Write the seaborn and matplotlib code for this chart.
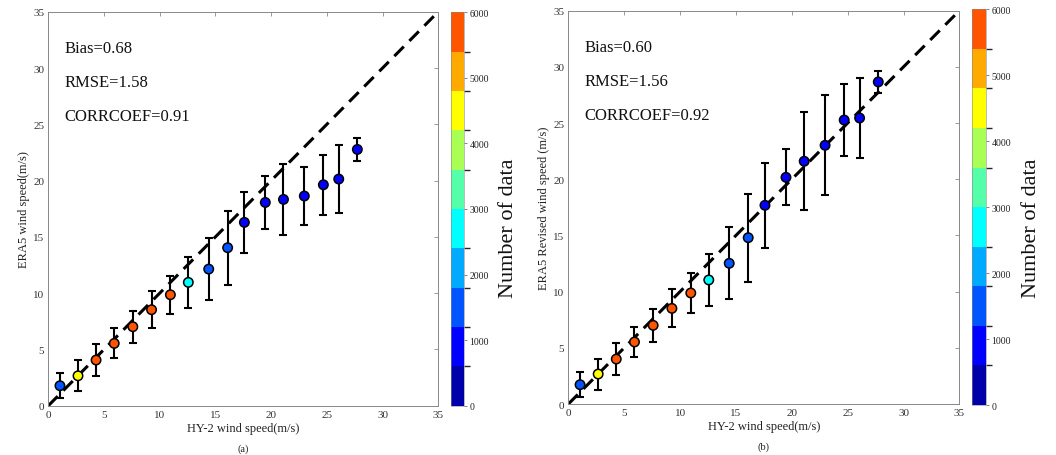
import numpy as np
import pandas as pd
import matplotlib
matplotlib.use("Agg")
import matplotlib.pyplot as plt
from matplotlib.colors import ListedColormap, BoundaryNorm
from matplotlib.cm import ScalarMappable
import seaborn as sns

# Binned HY-2 wind speed (m/s)
hy2_speed = [1.05, 2.67, 4.29, 5.92, 7.59, 9.27, 10.96, 12.57, 14.40,
             16.10, 17.60, 19.48, 21.11, 22.98, 24.69, 26.07, 27.74]
# Number of samples per bin
n_samples = [1500, 4500, 5700, 5700, 5700, 5700, 5700, 2700, 1500,
             1500, 900, 900, 900, 900, 900, 900, 900]

# Panel (a): ERA5 wind speed, mean and standard deviation per bin
era5_mean = [1.78, 2.66, 4.06, 5.54, 7.02, 8.53, 9.86, 10.96, 12.14,
             14.04, 16.29, 18.06, 18.33, 18.63, 19.63, 20.14, 22.77]
era5_std = [1.11, 1.38, 1.39, 1.33, 1.44, 1.65, 1.70, 2.25, 2.77,
            3.27, 2.69, 2.36, 3.19, 2.56, 2.65, 3.04, 1.06]

# Panel (b): ERA5 revised wind speed, mean and standard deviation per bin
rev_mean = [1.72, 2.67, 4.00, 5.52, 7.00, 8.51, 9.88, 11.04, 12.52,
            14.80, 17.68, 20.17, 21.60, 23.02, 25.27, 25.45, 28.66]
rev_std = [1.12, 1.38, 1.40, 1.35, 1.48, 1.68, 1.75, 2.35, 3.19,
           3.93, 3.80, 2.48, 4.34, 4.44, 3.18, 3.53, 1.00]

stats_a = ["Bias=0.68", "RMSE=1.58", "CORRCOEF=0.91"]
stats_b = ["Bias=0.60", "RMSE=1.56", "CORRCOEF=0.92"]

ylabels = ["ERA5 wind speed(m/s)", "ERA5 Revised wind speed (m/s)"]
xlabel = "HY-2 wind speed(m/s)"
panel_tags = ["(a)", "(b)"]
cbar_label = "Number of data"
cbar_ticks = [0, 1000, 2000, 3000, 4000, 5000, 6000]

sns.set_theme(style="white")
plt.rcParams["font.family"] = ["Liberation Serif", "DejaVu Serif"]

# 10-level jet palette
jet10 = ["#0000AA", "#0000FF", "#0055FF", "#00AAFF", "#00FFFF",
         "#55FFAA", "#AAFF55", "#FFFF00", "#FFAA00", "#FF5500"]
cmap = ListedColormap(jet10)
bounds = np.linspace(0, 6000, 11)
norm = BoundaryNorm(bounds, cmap.N)

fig = plt.figure(figsize=(10.56, 4.56), dpi=100)
ax_rects = [[0.0457, 0.108, 0.3693, 0.864], [0.5382, 0.1118, 0.3703, 0.8626]]
cax_rects = [[0.4268, 0.108, 0.0126, 0.863], [0.9208, 0.1096, 0.0127, 0.868]]
label_x = [0.4815, 0.9768]

panels = [(era5_mean, era5_std, stats_a), (rev_mean, rev_std, stats_b)]

for i, (ymean, ystd, stats) in enumerate(panels):
    ax = fig.add_axes(ax_rects[i])
    df = pd.DataFrame({"x": hy2_speed, "y": ymean, "err": ystd, "n": n_samples})

    # 1:1 reference line
    ax.plot([0, 34.6], [0, 34.6], color="black", lw=2.2, ls=(0, (4.4, 2.6)),
            zorder=1)

    ax.errorbar(df["x"], df["y"], yerr=df["err"], fmt="none", ecolor="black",
                elinewidth=1.5, capsize=3.2, capthick=1.5, zorder=2)

    sns.scatterplot(data=df, x="x", y="y", hue="n", palette=cmap,
                    hue_norm=norm, legend=False, s=46, edgecolor="black",
                    linewidth=1.1, zorder=3, ax=ax)

    ax.set_xlim(0, 35)
    ax.set_ylim(0, 35)
    ax.set_xticks(range(0, 36, 5))
    ax.set_yticks(range(0, 36, 5))
    ax.tick_params(direction="in", length=3, width=0.6, colors="#888888",
                   labelcolor="#333333", labelsize=8, top=True, right=True,
                   pad=3)
    for sp in ax.spines.values():
        sp.set_color("#888888")
        sp.set_linewidth(0.7)

    ax.set_xlabel(xlabel, fontsize=9, color="#222222", labelpad=2)
    ax.set_ylabel(ylabels[i], fontsize=9, color="#222222", labelpad=2)
    ax.text(0.5, -0.095, panel_tags[i], transform=ax.transAxes, ha="center",
            va="top", fontsize=7.5, color="#222222")

    for k, s in enumerate(stats):
        ax.text(1.45, 31.4 - 3.0 * k, s, fontsize=12, color="#111111",
                ha="left", va="baseline")

    cax = fig.add_axes(cax_rects[i])
    sm = ScalarMappable(norm=norm, cmap=cmap)
    cb = fig.colorbar(sm, cax=cax, ticks=cbar_ticks, spacing="proportional")
    cb.outline.set_linewidth(0.4)
    cb.outline.set_edgecolor("#888888")
    cb.ax.tick_params(labelsize=7, length=2, width=0.5, colors="#555555",
                      labelcolor="#222222", pad=2)
    fig.text(label_x[i], 0.5, cbar_label, rotation=90, ha="center",
             va="center", fontsize=16, color="#111111")

fig.savefig("out.png", dpi=100)
